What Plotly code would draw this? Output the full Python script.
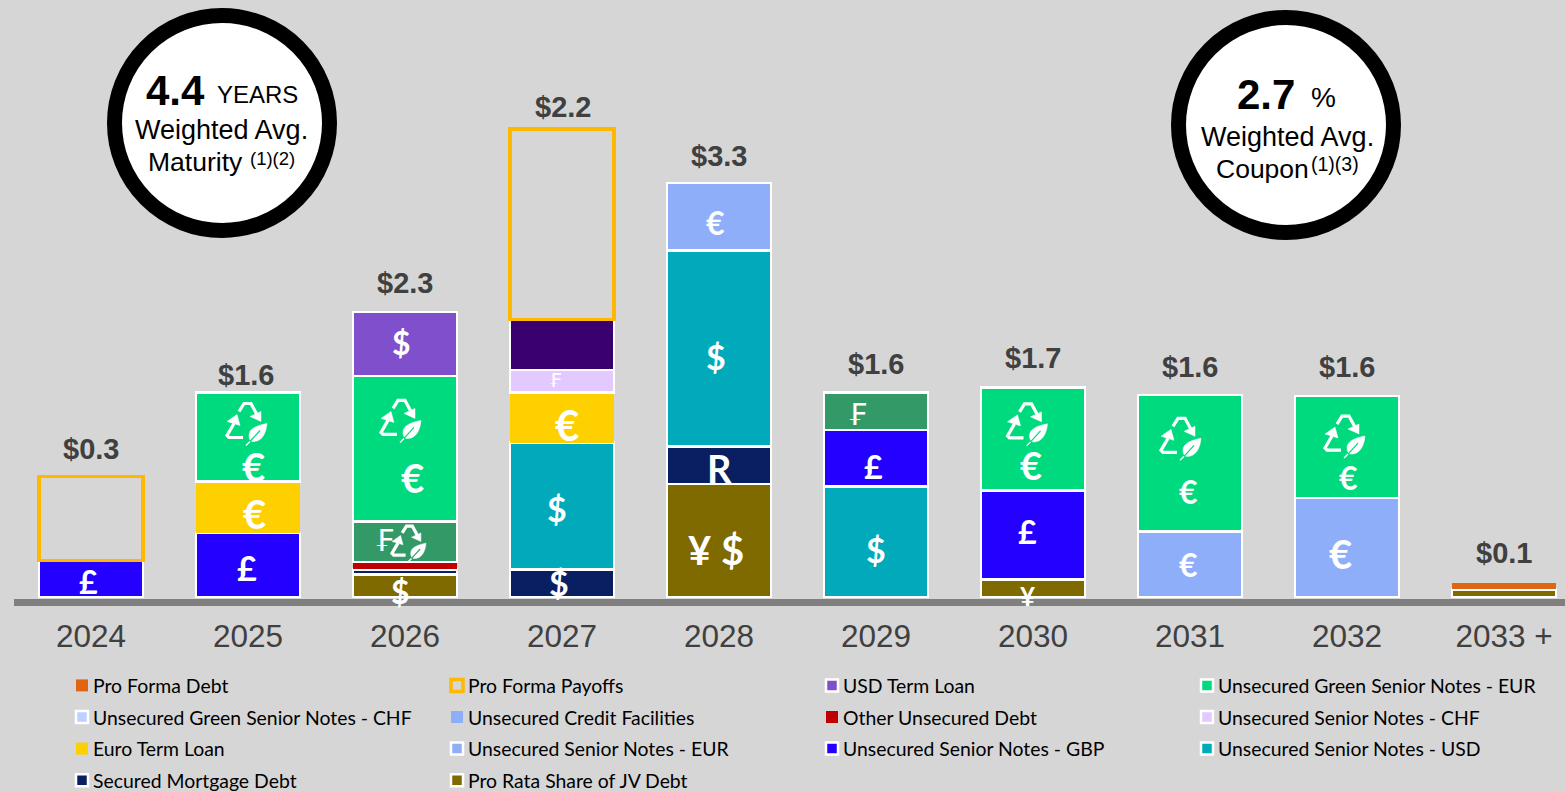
import plotly.graph_objects as go

years = ["2024", "2025", "2026", "2027", "2028", "2029", "2030", "2031", "2032", "2033 +"]
totals = ["$0.3", "$1.6", "$2.3", "$2.2", "$3.3", "$1.6", "$1.7", "$1.6", "$1.6", "$0.1"]

jv_debt        = [None, None, 0.18, None, 0.90, None, 0.14, None, None, 0.06]
secured        = [None, None, 0.04, 0.22, 0.30, None, None, None, None, None]
notes_usd      = [None, None, None, 1.01, 1.56, 0.88, None, None, None, None]
notes_gbp      = [0.29, 0.51, None, None, None, 0.45, 0.71, None, None, None]
notes_eur      = [None, None, None, None, 0.54, None, None, 0.52, 0.79, None]
euro_term      = [None, 0.41, None, 0.40, None, None, None, None, None, None]
notes_chf      = [None, None, None, 0.18, None, None, None, None, None, None]
other_unsec    = [None, None, 0.06, None, None, None, None, None, None, None]
credit_fac     = [None] * 10
green_chf      = [None, None, 0.32, None, None, 0.30, None, None, None, None]
green_eur      = [None, 0.71, 1.16, None, None, None, 0.82, 1.09, 0.81, None]
usd_term       = [None, None, 0.51, 0.40, None, None, None, None, None, None]
payoffs        = [0.67, None, None, 1.52, None, None, None, None, None, None]
pro_forma      = [None, None, None, None, None, None, None, None, None, 0.05]

WHITE = "#FFFFFF"
GREEN_CHF_BAR = "#339966"
USD_TERM_DARK = "#3A006F"
series = [
    ("Pro Rata Share of JV Debt", jv_debt, "#7F6A00", WHITE, 2.5),
    ("Secured Mortgage Debt", secured, "#0A1F62", WHITE, 2.5),
    ("Unsecured Senior Notes - USD", notes_usd, "#00AABB", WHITE, 2.5),
    ("Unsecured Senior Notes - GBP", notes_gbp, "#2300FF", WHITE, 2.5),
    ("Unsecured Senior Notes - EUR", notes_eur, "#8FAEFA", WHITE, 2.5),
    ("Euro Term Loan", euro_term, "#FFD000", "#FFD000", 0),
    ("Unsecured Senior Notes - CHF", notes_chf, "#E3C9FF", WHITE, 2.5),
    ("Other Unsecured Debt", other_unsec, "#C00000", "#C00000", 0),
    ("Unsecured Credit Facilities", credit_fac, "#8FAEFA", "#8FAEFA", 0),
    ("Unsecured Green Senior Notes - CHF", green_chf,
     ["#BDD0FF"] + [GREEN_CHF_BAR] * 9, WHITE, 2.5),
    ("Unsecured Green Senior Notes - EUR", green_eur, "#00DA7E", WHITE, 2.5),
    ("USD Term Loan", usd_term,
     ["#8050CC"] * 3 + [USD_TERM_DARK] + ["#8050CC"] * 6, WHITE, 2.5),
    ("Pro Forma Payoffs", payoffs, "rgba(0,0,0,0)", "#FFB800", 3.5),
    ("Pro Forma Debt", pro_forma, "#E06510", "#E06510", 0),
]
values_by_name = {s[0]: s[1] for s in series}
order = [s[0] for s in series]

W, H = 1565, 792
PX_PER_UNIT = 125.5
ZERO_PX = 597.0
AXIS_PX = 599.0
LEFT_PX = 14.0
STEP_PX = 157.0
FIRST_PX = 91.0

fig = go.Figure()
for name, vals, color, lcolor, lw in series:
    fig.add_bar(x=years, y=vals, name=name,
                marker=dict(color=color, line=dict(color=lcolor, width=lw)))


def seg_mid(year_idx, name):
    base = 0.0
    for n in order:
        v = values_by_name[n][year_idx]
        if n == name:
            return base + (v or 0) / 2
        base += v or 0
    return base


def stack_top(year_idx):
    return sum((values_by_name[n][year_idx] or 0) for n in order)


annots = []
shapes = []

# total labels, sitting on top of each stack
label_gap = [28, 17, 29, 22, 27, 28, 29, 28, 29, 30]
label_dx = [0, -2, 0, 1, 0, 0, 0, 0, 0, 0]
for i, t in enumerate(totals):
    annots.append(dict(x=i, y=stack_top(i), text=t, showarrow=False,
                       xshift=label_dx[i], yshift=label_gap[i],
                       font=dict(family="Liberation Sans", size=29, color="#404040", weight="bold")))

G, E, J, U, C = "Unsecured Green Senior Notes - EUR", "Unsecured Senior Notes - EUR", "Pro Rata Share of JV Debt", "Unsecured Senior Notes - USD", "Unsecured Green Senior Notes - CHF"
P, T, S, K = "Unsecured Senior Notes - GBP", "Euro Term Loan", "Secured Mortgage Debt", "USD Term Loan"
# currency glyphs: year index, series, glyph, size, px offset from segment centre
glyphs = [
    (0, P, "£", 32, -3, 2.5), (1, P, "£", 34, -1, 2), (1, T, "€", 40, 6, 6.5), (1, G, "€", 40, 5, 30),
    (2, K, "$", 32, -4, -2), (2, G, "€", 40, 7, 29.5), (2, C, "₣", 30, -21, -1.5), (2, J, "$", 32, -5, 5.5),
    (3, S, "$", 34, -3, -1), (3, U, "$", 34, -5, 2.5), (3, T, "€", 42, 5, 7), (3, "Unsecured Senior Notes - CHF", "₣", 20, -7, -1.5),
    (4, J, "¥ $", 40, -3, 9), (4, S, "R", 38, 0, 2.5), (4, U, "$", 34, -3, 7.5), (4, E, "€", 32, -4, 6),
    (5, U, "$", 34, 0, 8), (5, P, "£", 32, -3, 8), (5, C, "₣", 30, -19, 3),
    (6, J, "¥", 26, -5.5, 7.5), (6, P, "£", 32, -5.5, -3.5), (6, G, "€", 38, -2, 26),
    (7, E, "€", 32, -2, 0.5), (7, G, "€", 32, -2, 28),
    (8, E, "€", 40, -7, 6.5), (8, G, "€", 32, 1, 30),
]
for i, name, txt, size, dx, dy in glyphs:
    fam = "DejaVu Sans" if txt == "₣" else "Lato"
    wt = "normal" if txt == "₣" else "bold"
    annots.append(dict(x=i, y=seg_mid(i, name), text=txt, showarrow=False,
                       xshift=dx, yshift=-dy,
                       font=dict(family=fam, size=size, color=WHITE, weight=wt)))

# green recycle + leaf icon: year index, series, px offset, scale, background colour
icons = [
    (1, G, -1, -14.5, 1.0, "#00DA7E"), (2, G, -4, -29.5, 1.0, "#00DA7E"), (2, C, 4, 0.5, 0.85, GREEN_CHF_BAR),
    (6, G, -5.5, -16, 1.0, "#00DA7E"), (7, G, -9, -26, 1.0, "#00DA7E"), (8, G, -2, -12, 1.0, "#00DA7E"),
]


def poly(points, closed=False):
    out = "M" + " L".join(f"{x},{y}" for x, y in points)
    return out + (" Z" if closed else "")


def icon_shapes(i, name, dx, dy, sc, bg):
    def pt(x, y):
        return (x * sc + dx, -(y * sc + dy))
    base = dict(type="path", xref="x", yref="y", xsizemode="pixel", ysizemode="pixel",
                xanchor=i, yanchor=seg_mid(i, name), layer="above")
    stroke = dict(line=dict(color=WHITE, width=3.2), fillcolor="rgba(0,0,0,0)")
    solid = dict(line=dict(color=WHITE, width=0.5), fillcolor=WHITE)
    out = []
    out.append(dict(base, path=poly([pt(-8, -11), pt(-3, -19), pt(4, -19), pt(11, -6)]), **stroke))
    out.append(dict(base, path=poly([pt(14, -1), pt(3, -6), pt(14, -11)], True), **solid))
    out.append(dict(base, path=poly([pt(-13, 1), pt(-20, 13), pt(-18, 15), pt(-4, 15)]), **stroke))
    out.append(dict(base, path=poly([pt(-10, -8), pt(-20, -1), pt(-7, 3)], True), **solid))
    a = [pt(20, 1), pt(10, 3), pt(2, 6), pt(2, 13), pt(2, 16), pt(3, 18), pt(5, 19), pt(14, 20), pt(19, 12), pt(20, 1)]
    leaf = f"M{a[0][0]},{a[0][1]} C{a[1][0]},{a[1][1]} {a[2][0]},{a[2][1]} {a[3][0]},{a[3][1]} " \
           f"C{a[4][0]},{a[4][1]} {a[5][0]},{a[5][1]} {a[6][0]},{a[6][1]} " \
           f"C{a[7][0]},{a[7][1]} {a[8][0]},{a[8][1]} {a[9][0]},{a[9][1]} Z"
    out.append(dict(base, path=leaf, **solid))
    out.append(dict(base, path=poly([pt(13, 8), pt(3, 19)]), line=dict(color=bg, width=1.2), fillcolor="rgba(0,0,0,0)"))
    out.append(dict(base, path=poly([pt(3, 19), pt(-1, 23)]), line=dict(color=WHITE, width=1.4), fillcolor="rgba(0,0,0,0)"))
    return out


for ic in icons:
    shapes.extend(icon_shapes(*ic))


def px(x):
    return x / W


def py(y):
    return 1 - y / H


# the two summary circles
for cx, cy in [(222, 123), (1286, 125)]:
    r = 107.5
    shapes.append(dict(type="circle", xref="paper", yref="paper", layer="above",
                       x0=px(cx - r), x1=px(cx + r), y0=py(cy + r), y1=py(cy - r),
                       fillcolor=WHITE, line=dict(color="#000000", width=15)))

callouts = [
    (175, 90, "4.4", 42, True), (257, 95, "YEARS", 24, False), (221, 130, "Weighted Avg.", 27, False),
    (195, 162, "Maturity", 26.5, False), (272, 158, "(1)(2)", 18.5, False),
    (1266, 95, "2.7", 42, True), (1323, 98, "%", 28, False), (1287, 137, "Weighted Avg.", 27, False),
    (1262, 169, "Coupon", 26.5, False), (1335, 164, "(1)(3)", 19.5, False),
]
for x, y, txt, size, bold in callouts:
    annots.append(dict(xref="paper", yref="paper", x=px(x), y=py(y), text=txt, showarrow=False,
                       xanchor="center", yanchor="middle",
                       font=dict(family="Liberation Sans", size=size, color="#000000",
                                 weight="bold" if bold else "normal")))

BG = "#D6D6D6"
fig.update_layout(
    width=W, height=H,
    paper_bgcolor=BG, plot_bgcolor=BG,
    margin=dict(l=0, r=0, t=0, b=0),
    barmode="stack", bargap=0.335,
    font=dict(family="Lato", color="#000000"),
    shapes=shapes, annotations=annots,
    legend=dict(orientation="h", traceorder="reversed", x=px(62), xanchor="left",
                y=py(664), yanchor="top", entrywidth=330, entrywidthmode="pixels",
                font=dict(family="Lato", size=19.4, color="#000000"),
                bgcolor="rgba(0,0,0,0)"),
    xaxis=dict(domain=[px(LEFT_PX), 1], type="category",
               range=[(LEFT_PX - FIRST_PX) / STEP_PX, (W - FIRST_PX) / STEP_PX],
               showgrid=False, zeroline=False, showline=True, linecolor="#7F7F7F", linewidth=7,
               ticks="outside", ticklen=3, tickcolor="rgba(0,0,0,0)",
               tickfont=dict(family="Liberation Sans", size=31.5, color="#404040")),
    yaxis=dict(domain=[py(AXIS_PX), 1],
               range=[(ZERO_PX - AXIS_PX) / PX_PER_UNIT, ZERO_PX / PX_PER_UNIT],
               visible=False, showgrid=False, zeroline=False),
)

post = """
document.body.style.margin = '0';
var gd = document.getElementById('{plot_id}');
gd.querySelectorAll('.legendtext').forEach(function (t) { t.setAttribute('x', 31); });
gd.querySelectorAll('.legend .scrollbox').forEach(function (b) { b.removeAttribute('clip-path'); });
gd.querySelectorAll('.legend .traces').forEach(function (t) {
  var m = /translate\\(([-\\d.]+),\\s*([-\\d.]+)\\)/.exec(t.getAttribute('transform'));
  if (m) { t.setAttribute('transform', 'translate(' + m[1] + ',' + (parseFloat(m[2]) * 1.12) + ')'); }
});
"""
fig.write_html("out.html", post_script=post, config=dict(displayModeBar=False))
